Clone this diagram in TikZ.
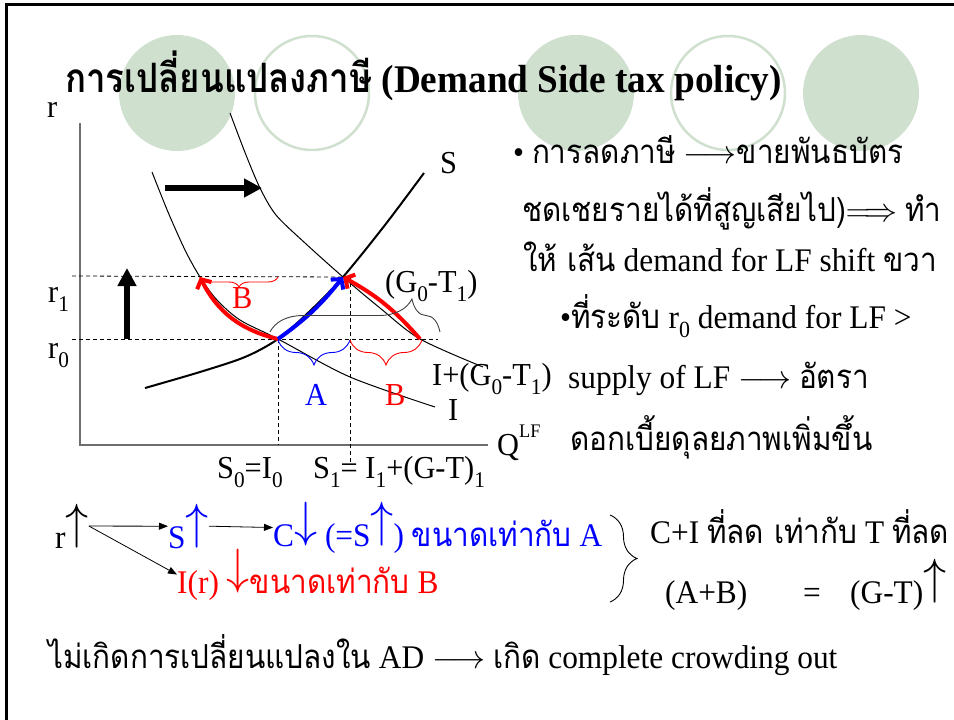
\RequirePackage{fix-cm}
\documentclass[tikz,border=0pt]{standalone}
\usepackage{fontspec}
\usepackage{graphicx}
\setmainfont{Liberation Serif}[FakeStretch=0.95]
\newfontfamily\thaifont{Loma}[Script=Thai,FakeStretch=0.9]
\newfontfamily\thaititlefont{Loma}[Script=Thai,FakeStretch=0.86]
\usetikzlibrary{arrows.meta,decorations.pathreplacing,positioning}
\definecolor{circgreen}{RGB}{208,224,207}
\definecolor{axisgray}{RGB}{110,110,110}
\newcommand{\thai}[1]{{\thaifont #1}}
\newcommand{\lsub}[1]{\raisebox{-0.3em}{\scalebox{0.7}{#1}}}
\newcommand{\lsup}[1]{\raisebox{0.55em}{\scalebox{0.6}{#1}}}
\newcommand{\tup}{\raisebox{0.29em}{\scalebox{1.4}[1.5]{$\uparrow$}}}
\newcommand{\tdown}{\raisebox{0.29em}{\scalebox{1.4}[1.5]{$\downarrow$}}}

\begin{document}
\begin{tikzpicture}[x=1pt,y=-1pt,
  txt/.style={inner sep=0pt, anchor=base west, font=\fontsize{33}{38}\selectfont},
  lbl/.style={inner sep=0pt, anchor=base west, font=\fontsize{32}{36}\selectfont},
  thinc/.style={line width=1pt},
  guide/.style={line width=0.8pt, dash pattern=on 4pt off 3pt},
  bigarr/.style={line width=6.5pt, -{Triangle[length=18pt,width=18pt]}},
  shiftarr/.style={line width=4pt, -{Straight Barb[length=7pt,width=16pt]}},
  smallarr/.style={line width=0.8pt, -{Triangle[length=9pt,width=7pt]}},
  brc/.style={line width=0.9pt, decorate}
]
  \useasboundingbox (0,0) rectangle (954,720);
  % ── template circles ──
  \foreach \cx in {177,576,861}
    \fill[circgreen] (\cx,93) circle[radius=58pt];
  \foreach \cx in {312,728}
    \draw[circgreen, line width=2.5pt] (\cx,93) circle[radius=57pt];
  % ── slide frame ──
  \draw[line width=3pt] (6,720) -- (6,4.5) -- (954,4.5);
  %
  % ── title ──
  \node[inner sep=0pt, anchor=base west, font=\fontsize{39.2}{46}\selectfont\bfseries]
    (title) at (65,92) {{\thaititlefont\fontsize{40.5}{46}\selectfont การเปลี่ยนแปลงภาษี} (Demand Side tax policy)};
  %
  % ── axes and guides ──
  \draw[axisgray, line width=1.5pt] (80,123) -- (80,445) -- (488,445);
  \coordinate (E0) at (278,339);
  \coordinate (E1) at (343,277);
  \coordinate (Bl) at (200,277);
  \coordinate (Br) at (420,339);
  \draw[guide] (72,276) -- (E1);
  \draw[guide] (72,339) -- (438,339);
  \draw[guide] (E0) -- (278,445);
  \draw[guide] (350,276) -- (350,462);
  %
  % ── saving and investment curves ──
  \draw[line width=2pt] plot[smooth] coordinates
    {(145,388) (200,372) (245,357) (E0) (310,311) (E1) (385,225) (424,173)};
  \draw[thinc] plot[smooth] coordinates
    {(152,172) (168,212) (185,250) (Bl) (217,300) (240,320) (E0) (350,377) (435,407)};
  \draw[thinc] plot[smooth] coordinates
    {(230,113) (246,155) (260,188) (276,215) (305,243) (E1) (380,308) (Br) (483,367)};
  %
  % ── shifts ──
  \draw[bigarr] (165,188) -- (262,188);
  \draw[bigarr] (127,339) -- (127,268);
  \draw[shiftarr, red] (E0) to[bend left=25] (Bl);
  \draw[shiftarr, red] (Br) to[bend right=10] (E1);
  \draw[shiftarr, blue] (E0) to[bend right=8] (E1);
  %
  % ── braces ──
  \draw[brc, red, decoration={brace, mirror, amplitude=10pt}] (Bl) -- (278,277);
  \draw[brc, blue, decoration={brace, mirror, amplitude=25pt}] (278,340) -- (350,340);
  \draw[brc, red, decoration={brace, mirror, amplitude=25pt}] (350,340) -- (422,340);
  \draw[brc, black!75, decoration={brace, amplitude=33pt, aspect=0.835}] (270,332) -- (440,332);
  %
  % ── graph labels ──
  \node[lbl] (rlab) at (47,117) {r};
  \node[lbl] (slab) at (440,173) {S};
  \node[lbl] (r1lab) at (48,302) {r\lsub{1}};
  \node[lbl] (r0lab) at (48,358) {r\lsub{0}};
  \node[lbl] (gtlab) at (385,292) {(G\lsub{0}-T\lsub{1})};
  \node[lbl] (ishlab) at (432,385) {I+(G\lsub{0}-T\lsub{1})};
  \node[lbl] (ilab) at (448,420) {I};
  \node[lbl, blue] (alab) at (305,405) {A};
  \node[lbl, red] (blab) at (385,405) {B};
  \node[lbl, red] (bup) at (232,308) {B};
  \node[lbl] (s0lab) at (217,478) {S\lsub{0}=I\lsub{0}};
  \node[lbl] (s1lab) at (313,478) {S\lsub{1}= I\lsub{1}+(G-T)\lsub{1}};
  \node[lbl] (qlab) at (497,455) {Q\lsup{LF}};
  %
  % ── explanation on the right ──
  \node[txt] (line1) at (513,163) {• \thai{การลดภาษี} $\longrightarrow$\thai{ขายพันธบัตร}};
  \node[txt] (line2) at (522,221) {\thai{ชดเชยรายได้ที่สูญเสียไป)}$\Longrightarrow$\hspace{8pt}\thai{ทำ}};
  \node[txt] (line3) at (523,271) {\thai{ให้ เส้น} demand for LF shift \thai{ขวา}};
  \node[txt] (line4) at (560,328) {•\thai{ที่ระดับ} r\lsub{0} demand for LF >};
  \node[txt] (line5) at (568,388) {supply of LF $\longrightarrow$ \thai{อัตรา}};
  \node[txt] (line6) at (570,450) {\thai{ดอกเบี้ยดุลยภาพเพิ่มขึ้น}};
  %
  % ── chain of effects ──
  \node[txt] (rup) at (55,548) {r\tup};
  \node[txt, blue] (sup) at (168,548) {S\tup};
  \node[txt, blue] (cdown) at (273,546) {C\tdown{} (=S\tup) \thai{ขนาดเท่ากับ} A};
  \node[txt, red] (idown) at (177,593) {I(r) \tdown\thai{ขนาดเท่ากับ} B};
  \draw[smallarr] (rup.east) -- (sup.west);
  \draw[smallarr] (sup.east) -- (cdown.west);
  \draw[smallarr] (rup.east) -- (idown.west);
  \draw[brc, decoration={brace, amplitude=27pt}] (610,515) -- (610,602);
  \node[txt] (cisum) at (650,543) {C+I \thai{ที่ลด เท่ากับ} T \thai{ที่ลด}};
  \node[txt] (absum) at (665,603) {(A+B)};
  \node[txt] (eqsign) at (803,603) {=};
  \node[txt] (gtup) at (850,603) {(G-T)\tup};
  \node[txt] (concl) at (48,668)
    {\thai{ไม่เกิดการเปลี่ยนแปลงใน} AD $\longrightarrow$ \thai{เกิด} complete crowding out};
\end{tikzpicture}
\end{document}
